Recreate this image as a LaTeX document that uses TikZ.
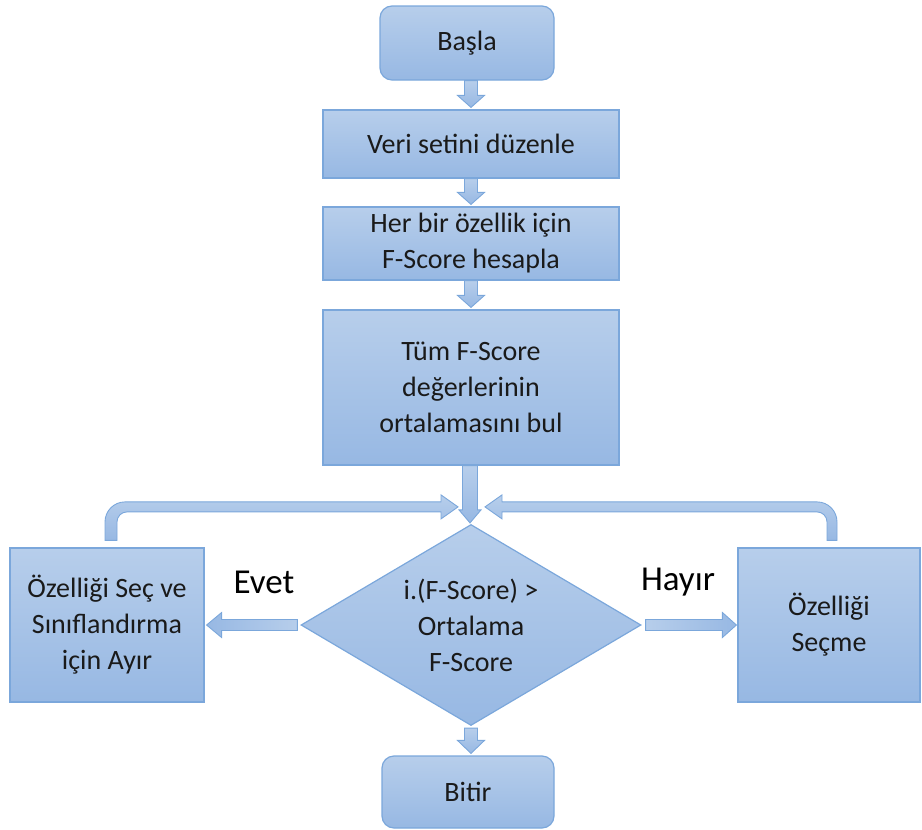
\documentclass[tikz,border=0pt]{standalone}
\usepackage{fontspec}
\setmainfont{Carlito}
\usetikzlibrary{calc,shapes.geometric}
\definecolor{boxtop}{HTML}{B7CEEB}
\definecolor{boxbot}{HTML}{97B8E3}
\definecolor{boxline}{HTML}{7BA7DB}
\definecolor{ink}{HTML}{1A1A1A}

% vertical block arrow: #1 start anchor, #2 tip, #3 stem half width, #4 head half width, #5 head length
\newcommand\vdown[5]{\draw[blockarrow]
  ($(#2 |- #1)+(-#3,0)$) -- ($(#2 |- #1)+(#3,0)$) -- ($(#2)+(#3,-#5)$) --
  ($(#2)+(#4,-#5)$) -- (#2) -- ($(#2)+(-#4,-#5)$) -- ($(#2)+(-#3,-#5)$) -- cycle;}

% horizontal block arrow: #1 stem start, #2 tip, #3 signed head length, #4 stem half, #5 head half, #6 shading
\newcommand\hblock[6]{\draw[blockarrow,#6]
  ($(#1)+(0,-#4)$) -- ($(#2)+(#3,-#4)$) -- ($(#2)+(#3,-#5)$) -- (#2) --
  ($(#2)+(#3,#5)$) -- ($(#2)+(#3,#4)$) -- ($(#1)+(0,#4)$) -- cycle;}

\begin{document}
\begin{tikzpicture}[x=1pt,y=-1pt,
  every node/.style={font=\fontsize{28}{36}\selectfont, text=ink, align=center, inner sep=0pt},
  box/.style={draw=boxline, line width=1.2pt, top color=boxtop, bottom color=boxbot, rectangle},
  roundbox/.style={box, rounded corners=12pt},
  blockarrow/.style={draw=boxline, line width=0.9pt, top color=boxtop, bottom color=boxbot, line join=miter},
  answer/.style={font=\fontsize{35}{40}\selectfont, text=black}]

\useasboundingbox (0,0) rectangle (922,830);

% process boxes
\node[roundbox, minimum width=174pt, minimum height=74pt] (basla) at (467,43) {Başla};
\node[box, minimum width=296pt, minimum height=68pt] (veri) at (471,144) {Veri setini düzenle};
\node[box, minimum width=296pt, minimum height=73pt] (her) at (471,243.5) {Her bir özellik için\\F-Score hesapla};
\node[box, minimum width=296pt, minimum height=155pt] (tum) at (471,387.5) {Tüm F-Score\\değerlerinin\\ortalamasını bul};
\node[box, diamond, aspect=1.7, minimum width=340pt, minimum height=201pt] (dec) at (471,625) {i.(F-Score) >\\Ortalama\\F-Score};
\node[box, minimum width=194pt, minimum height=154pt] (lbox) at (107,625) {Özelliği Seç ve\\Sınıflandırma\\için Ayır};
\node[box, minimum width=182pt, minimum height=154pt] (rbox) at (829,625) {Özelliği\\Seçme};
\node[roundbox, minimum width=172pt, minimum height=72pt] (bitir) at (468,792) {Bitir};

% branch labels
\node[answer] (evet) at (264,582) {Evet};
\node[answer] (hayir) at (678,582) {Hayır};

% arrow end points
\coordinate (t1) at ($(veri.north)+(0,-2)$);
\coordinate (t2) at ($(her.north)+(0,-2)$);
\coordinate (t3) at ($(tum.north)+(0,-2)$);
\coordinate (t4) at ($(dec.north)+(-1,-1)$);
\coordinate (s5) at ($(dec.south)+(0,2)$);
\coordinate (t5) at ($(bitir.north)+(3,-2)$);
\coordinate (s6) at ($(dec.west)+(-3,0)$);
\coordinate (t6) at ($(lbox.east)+(2,0)$);
\coordinate (s7) at ($(dec.east)+(4,0)$);
\coordinate (t7) at ($(rbox.west)+(-1,0)$);
\coordinate (lf) at ($(lbox.north)+(4,-7)$);
\coordinate (lt) at ($(dec.north)+(-13,-17)$);
\coordinate (rf) at ($(rbox.north)+(3,-7)$);
\coordinate (rt) at ($(dec.north)+(14,-17)$);

% main flow
\vdown{basla.south}{t1}{6.5}{13.5}{12}
\vdown{veri.south}{t2}{6.5}{13.5}{12}
\vdown{her.south}{t3}{6.5}{13.5}{12}
\vdown{tum.south}{t4}{7.5}{11}{13}
\vdown{s5}{t5}{6.5}{13.5}{13}

% yes / no branches
\hblock{s6}{t6}{15}{5.5}{12.5}{left color=boxbot, right color=boxtop}
\hblock{s7}{t7}{-14}{5.5}{12.5}{left color=boxtop, right color=boxbot}

% loop back from the left box
\draw[blockarrow] (lt) -- ($(lt)+(-17,-12)$) -- ($(lt)+(-17,-5)$) --
  ($(lf |- lt)+(14,-5)$) arc[start angle=270, end angle=180, radius=20] --
  ($(lf)+(-6,0)$) -- ($(lf)+(6,0)$) --
  ($(lf |- lt)+(6,15)$) arc[start angle=180, end angle=270, radius=10] --
  ($(lt)+(-17,5)$) -- ($(lt)+(-17,12)$) -- cycle;

% loop back from the right box
\draw[blockarrow] (rt) -- ($(rt)+(17,-12)$) -- ($(rt)+(17,-5)$) --
  ($(rf |- rt)+(-15,-5)$) arc[start angle=270, end angle=360, radius=20] --
  ($(rf)+(5,0)$) -- ($(rf)+(-5,0)$) --
  ($(rf |- rt)+(-5,15)$) arc[start angle=0, end angle=-90, radius=10] --
  ($(rt)+(17,5)$) -- ($(rt)+(17,12)$) -- cycle;

\end{tikzpicture}
\end{document}
